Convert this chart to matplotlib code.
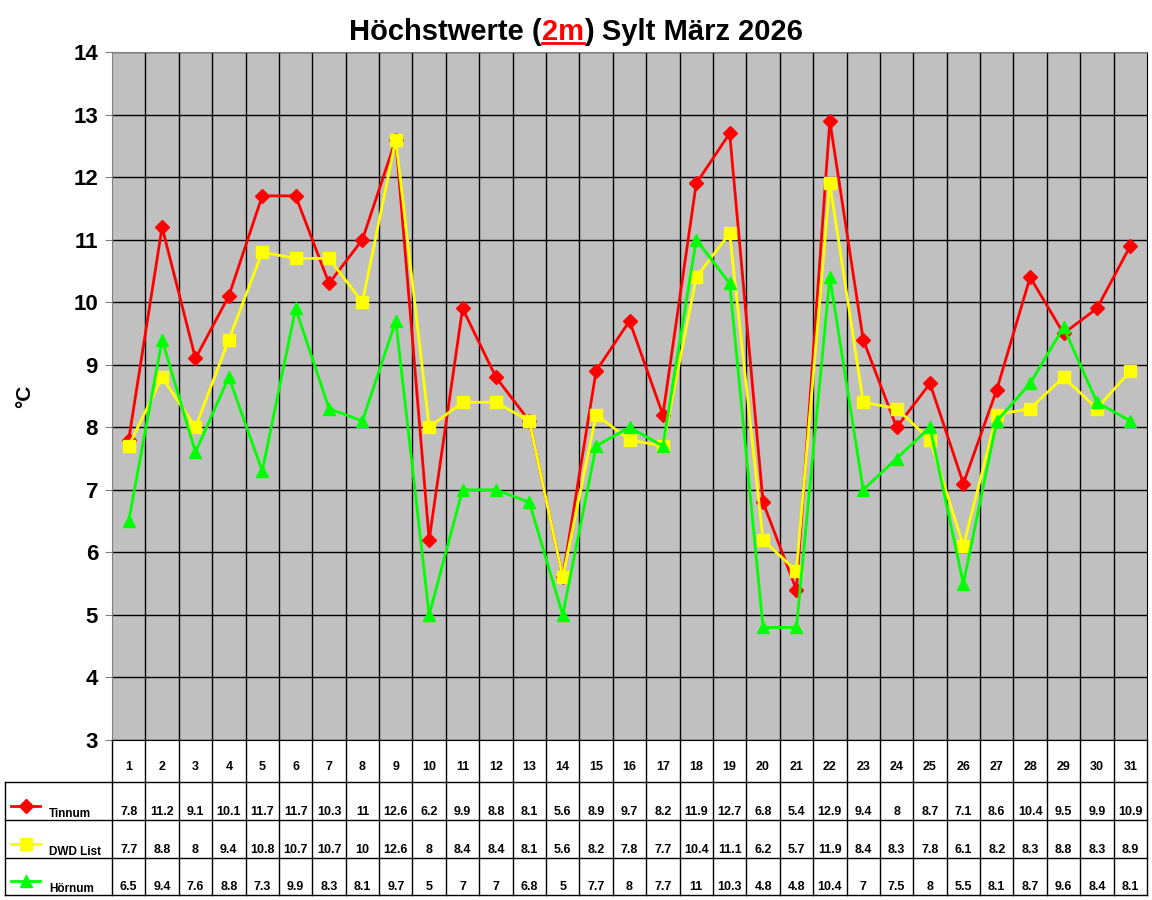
import numpy as np
import matplotlib.pyplot as plt
from matplotlib.lines import Line2D

plt.rcParams['font.family'] = ['Liberation Sans', 'DejaVu Sans']
plt.rcParams['font.weight'] = 'bold'

days = list(range(1, 32))
tinnum = [7.8, 11.2, 9.1, 10.1, 11.7, 11.7, 10.3, 11, 12.6, 6.2, 9.9, 8.8, 8.1, 5.6, 8.9, 9.7,
          8.2, 11.9, 12.7, 6.8, 5.4, 12.9, 9.4, 8, 8.7, 7.1, 8.6, 10.4, 9.5, 9.9, 10.9]
dwd_list = [7.7, 8.8, 8, 9.4, 10.8, 10.7, 10.7, 10, 12.6, 8, 8.4, 8.4, 8.1, 5.6, 8.2, 7.8,
            7.7, 10.4, 11.1, 6.2, 5.7, 11.9, 8.4, 8.3, 7.8, 6.1, 8.2, 8.3, 8.8, 8.3, 8.9]
hoernum = [6.5, 9.4, 7.6, 8.8, 7.3, 9.9, 8.3, 8.1, 9.7, 5, 7, 7, 6.8, 5, 7.7, 8,
           7.7, 11, 10.3, 4.8, 4.8, 10.4, 7, 7.5, 8, 5.5, 8.1, 8.7, 9.6, 8.4, 8.1]
names = ['Tinnum', 'DWD List', 'Hörnum']
series = [tinnum, dwd_list, hoernum]
colors = ['#ff0000', '#ffff00', '#00ff00']
markers = ['D', 's', '^']
msizes = [7.5, 9, 9]

W, H = 1152, 900
fig = plt.figure(figsize=(11.52, 9), dpi=100)


def box(x0, y0, x1, y1):
    return [x0 / W, 1 - y1 / H, (x1 - x0) / W, (y1 - y0) / H]


# Diagramm
ax = fig.add_axes(box(112, 52, 1147, 740))
ax.set_facecolor('#c0c0c0')
for vals, c, m, ms in zip(series, colors, markers, msizes):
    ax.plot(days, vals, color=c, marker=m, ms=ms, lw=2, mec=c, zorder=3)
ax.set_xlim(0.5, 31.5)
ax.set_ylim(3, 14)
ax.set_yticks(range(3, 15))
ax.set_xticks([])
for x in np.arange(1.5, 31.5):
    ax.axvline(x, color='black', lw=1, zorder=1)
ax.grid(axis='y', color='black', lw=1, zorder=1)
ax.set_axisbelow(True)
ax.tick_params(axis='y', labelsize=16, length=5, color='#808080', pad=5)
for s in ax.spines.values():
    s.set_color('black')
ax.spines['left'].set_color('#808080')
ax.spines['top'].set_color('#808080')
ax.set_ylabel('°C', fontsize=15, fontweight='bold', labelpad=28)

# Tabelle
unit = (1147 - 112) / 31


def px(p):
    return 0.5 + (p - 112) / unit


tab = fig.add_axes(box(5, 740, 1147, 896))
tab.set_xlim(px(5), 31.5)
tab.set_ylim(896, 740)
tab.axis('off')
rows = [782, 820, 858, 895]
for y in rows:
    tab.plot([px(5), 31.5], [y, y], color='black', lw=1, clip_on=False)
for x in np.arange(0.5, 32):
    tab.plot([x, x], [740, 895], color='black', lw=1, clip_on=False)
tab.plot([px(5), px(5)], [782, 895], color='black', lw=1, clip_on=False)

for d in days:
    tab.text(d, 767, str(d), ha='center', va='center', fontsize=9)

for i, (vals, name, c, m, ms) in enumerate(zip(series, names, colors, markers, msizes)):
    yb = rows[i + 1]
    for d, v in zip(days, vals):
        tab.text(d, yb - 8, f'{v:g}', ha='center', va='center', fontsize=9)
    tab.plot([px(11), px(40)], [yb - 14, yb - 14], color=c, lw=2, clip_on=False)
    tab.plot([px(25.5)], [yb - 14], marker=m, ms=ms * 0.9, color=c, mec=c, clip_on=False)
    tab.text(px(49), yb - 6, name, ha='left', va='center', fontsize=8.5)

# Titel
y_t = 1 - 40 / H
parts = [('Höchstwerte (', 'black'), ('2m', '#ff0000'), (') Sylt März 2026', 'black')]
r = fig.canvas.get_renderer()
texts = [fig.text(0, y_t, s, color=c, fontsize=21, va='baseline') for s, c in parts]
widths = [t.get_window_extent(r).width for t in texts]
x0 = 576 - sum(widths) / 2
for t, w in zip(texts, widths):
    t.set_x(x0 / W)
    if t.get_text() == '2m':
        fig.add_artist(Line2D([x0 / W, (x0 + w) / W], [y_t - 3 / H, y_t - 3 / H],
                              color='#ff0000', lw=2, transform=fig.transFigure))
    x0 += w

fig.savefig('out.png', dpi=100)
